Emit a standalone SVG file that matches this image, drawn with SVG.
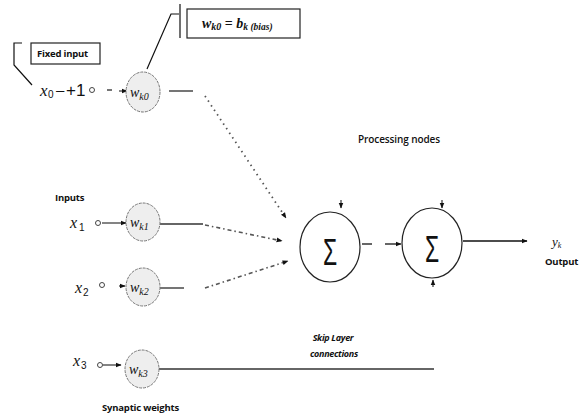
<svg xmlns="http://www.w3.org/2000/svg" width="579" height="417" viewBox="0 0 579 417">
<defs>
<style>
.lbl{font-family:"Open Sans","Liberation Sans",sans-serif;font-weight:bold;font-size:9.5px;fill:#111;letter-spacing:-0.2px}
.reg{font-family:"Open Sans","Liberation Sans",sans-serif;font-weight:600;font-size:10px;fill:#111;letter-spacing:-0.1px}
.ital{font-family:"Open Sans","Liberation Sans",sans-serif;font-weight:bold;font-style:italic;font-size:9px;fill:#111;letter-spacing:-0.3px}
.math{font-family:"Liberation Serif","DejaVu Serif",serif;font-style:italic;fill:#111}
.up{font-family:"Liberation Sans","DejaVu Sans",sans-serif;fill:#111}
.wnode{fill:#eeeeee;stroke:#777;stroke-width:1;stroke-dasharray:3 1}
.snode{fill:#fff;stroke:#222;stroke-width:1.2}
.ln{stroke:#666;stroke-width:1.8;fill:none}
.dot{stroke:#555;stroke-width:1.8;fill:none;stroke-dasharray:1.5 4}
.dash{stroke:#666;stroke-width:1.8;fill:none}
.dd{stroke:#555;stroke-width:1.6;fill:none;stroke-dasharray:4 3 1.5 3}
.thin{stroke:#333;stroke-width:1.2;fill:none}
.blk{stroke:#111;stroke-width:1.2;fill:none}
.box{fill:#fff;stroke:#222;stroke-width:1.2}
.pin{fill:#fff;stroke:#444;stroke-width:1}
.sig{font-family:"Liberation Sans","DejaVu Sans",sans-serif;font-size:37px;fill:#111}
</style>
<marker id="ah" viewBox="0 0 10 10" refX="9" refY="5" markerWidth="6" markerHeight="6" orient="auto" markerUnits="userSpaceOnUse">
<path d="M0,1 L10,5 L0,9 z" fill="#111"/>
</marker>
</defs>

<g id="callouts">
<g id="fixed-input-callout">
<rect class="box" x="31" y="43" width="69" height="21"/>
<text class="lbl" x="37" y="57">Fixed input</text>
<path class="blk" d="M22,43 H14 V65 L32,85"/>
</g>
<g id="bias-callout">
<rect class="box" x="187" y="9" width="113" height="29"/>
<text x="202" y="28" class="math" style="font-weight:bold;font-size:14px">w<tspan font-size="10" dy="2">k0</tspan><tspan dy="-2" style="font-style:normal"> = </tspan>b<tspan font-size="9.5" dy="2">k (bias)</tspan></text>
<path class="blk" d="M180,4 V38"/>
<path class="blk" d="M179,14 H171 L147,69"/>
</g>
</g>

<g id="labels">
<text class="lbl" x="55" y="201">Inputs</text>
<text class="lbl" x="102" y="411">Synaptic weights</text>
<text class="reg" x="358" y="143">Processing nodes</text>
<text class="ital" x="333" y="341" text-anchor="middle">Skip Layer</text>
<text class="ital" x="334" y="357" text-anchor="middle">connections</text>
<text class="lbl" x="545" y="265">Output</text>
</g>

<g id="inputs">
<g id="x0"><text class="math" x="40" y="96" font-size="17">x</text><text class="up" x="48" y="98" font-size="10">0</text><text class="up" x="56" y="95" font-size="15">–</text><text class="up" x="66" y="96" font-size="17">+1</text><circle class="pin" cx="92" cy="90" r="2.5"/></g>
<g id="x1"><text class="math" x="70" y="228" font-size="16">x</text><text class="up" x="79" y="231" font-size="10">1</text><circle class="pin" cx="98" cy="223" r="2.5"/></g>
<g id="x2"><text class="math" x="75" y="293" font-size="16">x</text><text class="up" x="83" y="296" font-size="10">2</text><circle class="pin" cx="102" cy="285" r="2.5"/></g>
<g id="x3"><text class="math" x="73" y="366" font-size="16">x</text><text class="up" x="81" y="369" font-size="10">3</text><circle class="pin" cx="100" cy="365" r="2.5"/></g>
</g>

<g id="connectors">
<path class="dash" d="M107,90 H112"/>
<path class="thin" d="M119,91 L127,91" marker-end="url(#ah)"/>
<path class="ln" d="M169,91 H193"/>
<path class="dot" d="M205,96 L286,218" marker-end="url(#ah)"/>
<path class="thin" d="M102,223 L126,223" marker-end="url(#ah)"/>
<path class="ln" d="M160,224 H203"/>
<path class="dd" d="M205,225 L282,241" marker-end="url(#ah)"/>
<path class="thin" d="M119,286 L125,286" marker-end="url(#ah)"/>
<path class="ln" d="M160,288 H184"/>
<path class="dd" d="M205,288 L288,261" marker-end="url(#ah)"/>
<path class="thin" d="M103,365 L121,365" marker-end="url(#ah)"/>
<path class="ln" d="M158,369 H434"/>
<path class="dash" d="M362,244 H372 M385,244 H396"/>
<path class="thin" d="M396,244 L401,244" marker-end="url(#ah)"/>
<path class="blk" d="M463,241 H527" marker-end="url(#ah)" style="stroke-width:1.6"/>
<path class="thin" d="M341,200 L341,208" marker-end="url(#ah)"/>
<path class="thin" d="M442,200 L442,208" marker-end="url(#ah)"/>
<path class="thin" d="M433,287 L433,280" marker-end="url(#ah)"/>
</g>

<g id="weights">
<g id="wk0"><ellipse class="wnode" cx="143" cy="92" rx="17" ry="20"/><text class="math" x="130" y="97" font-size="14">w<tspan font-size="10" dy="3">k0</tspan></text></g>
<g id="wk1"><ellipse class="wnode" cx="143" cy="222" rx="17" ry="19"/><text class="math" x="130" y="227" font-size="14">w<tspan font-size="10" dy="3">k1</tspan></text></g>
<g id="wk2"><ellipse class="wnode" cx="143" cy="287" rx="17" ry="19"/><text class="math" x="130" y="292" font-size="14">w<tspan font-size="10" dy="3">k2</tspan></text></g>
<g id="wk3"><ellipse class="wnode" cx="142" cy="369" rx="17" ry="19"/><text class="math" x="129" y="374" font-size="14">w<tspan font-size="10" dy="3">k3</tspan></text></g>
</g>

<g id="sum1"><ellipse class="snode" cx="330" cy="247" rx="30" ry="35"/><text class="sig" transform="translate(330,265) scale(0.62,1)" text-anchor="middle">Σ</text></g>
<g id="sum2"><ellipse class="snode" cx="432" cy="243" rx="30" ry="35"/><text class="sig" transform="translate(432,262) scale(0.62,1)" text-anchor="middle">Σ</text></g>
<g id="output"><text class="math" x="552" y="246" font-size="13">y<tspan font-size="8" dy="2">k</tspan></text></g>
</svg>
